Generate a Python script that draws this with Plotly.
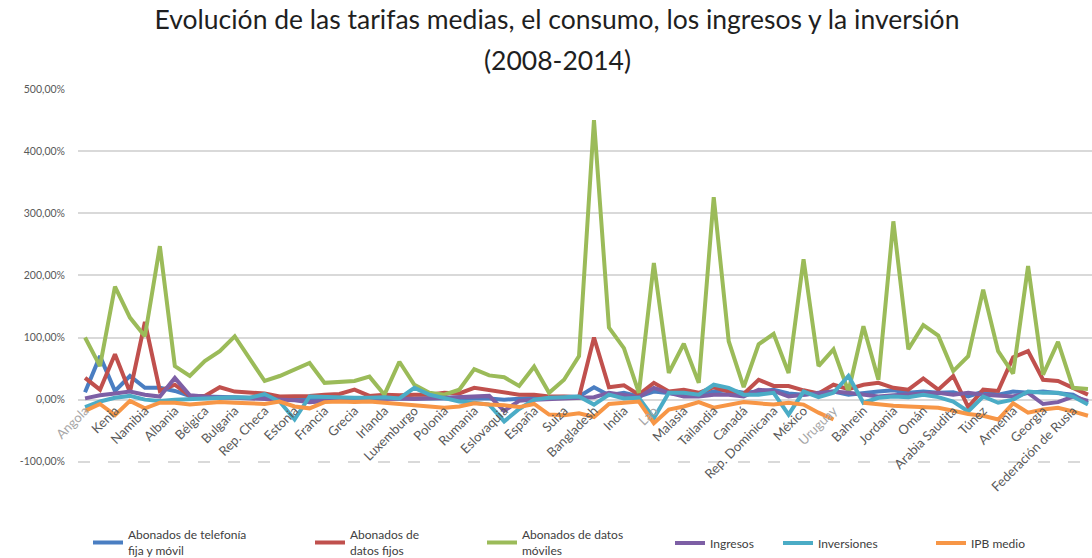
import plotly.graph_objects as go

# Categories (countries); only every other one is labelled on the axis
countries = [
    "Angola", "Ghana", "Kenia", "Mozambique", "Namibia", "Sudáfrica",
    "Albania", "Austria", "Bélgica", "Bosnia y Herzegovina", "Bulgaria", "Croacia",
    "Rep. Checa", "Dinamarca", "Estonia", "Finlandia", "Francia", "Alemania",
    "Grecia", "Hungría", "Irlanda", "Italia", "Luxemburgo", "Países Bajos",
    "Polonia", "Portugal", "Rumania", "Serbia", "Eslovaquia", "Eslovenia",
    "España", "Suecia", "Suiza", "Reino Unido", "Bangladesh", "China",
    "India", "Indonesia", "Lao", "Macao", "Malasia", "Singapur",
    "Tailandia", "Viet Nam", "Canadá", "Colombia", "Rep. Dominicana", "Guatemala",
    "México", "Perú", "Uruguay", "Venezuela", "Bahrein", "Egipto",
    "Jordania", "Kuwait", "Omán", "Qatar", "Arabia Saudita", "Siria",
    "Túnez", "Emiratos Árabes Unidos", "Armenia", "Azerbaiyán", "Georgia", "Kazajstán",
    "Federación de Rusia", "Ucrania",
]
labelled = countries[::2]
faint_labels = ["Angola", "Lao", "Uruguay"]

# Variation 2008-2014, in percent
abonados_telefonia = [
    12, 70, 14, 38, 19, 19, 14, 6, 5, 4, 4, 3, 3, 2, 2, 2, 2, 3, 3, 2,
    2, 2, 2, 2, 2, 2, 2, 2, 0, 2, 3, 4, 4, 5, 20, 7, 11, 5, 13, 11,
    8, 8, 13, 15, 11, 13, 16, 10, 8, 11, 13, 8, 11, 13, 15, 11, 13, 11, 12, 5,
    13, 8, 13, 11, 13, 11, 8, -5,
]
abonados_datos_fijos = [
    35, 16, 73, 12, 125, 14, 24, 6, 6, 20, 13, 12, 10, 5, 5, 6, 8, 9, 16, 6,
    8, 7, 8, 8, 11, 10, 19, 15, 12, 8, 8, 5, 5, 4, 100, 20, 23, 8, 27, 13,
    16, 11, 20, 13, 9, 32, 22, 22, 15, 10, 24, 17, 24, 27, 19, 16, 34, 16, 38, -12,
    16, 14, 68, 78, 32, 30, 19, 8,
]
abonados_datos_moviles = [
    100, 54, 182, 132, 102, 247, 54, 38, 62, 78, 102, 66, 30, 38, 48, 59, 27, 28, 30, 37,
    8, 61, 24, 11, 8, 16, 49, 39, 36, 22, 53, 11, 32, 70, 450, 116, 83, 11, 220, 43,
    90, 27, 326, 94, 20, 89, 106, 43, 226, 54, 81, 13, 118, 32, 287, 81, 120, 103, 46, 70,
    177, 78, 42, 215, 40, 93, 19, 17,
]
ingresos = [
    2, 7, 10, 13, 8, 5, 35, 7, 5, 3, 3, 2, 1, 0, -1, -4, -2, 0, 1, 1,
    2, 2, 1, 2, 2, 3, 4, 6, -18, -2, 0, 1, 2, 2, 4, 11, 8, 4, 19, 11,
    5, 5, 8, 8, 5, 16, 14, 5, 8, 11, 13, 11, 8, 5, 7, 8, 9, 11, 8, 11,
    8, 7, 5, 11, -7, -4, 5, -2,
]
inversiones = [
    -12, -3, 3, 6, 0, -2, 0, 1, 3, 4, 4, 3, 9, -3, -32, 5, 4, 3, 3, 3,
    4, 2, 19, 8, 2, -3, -5, -8, -35, -15, 0, 3, 4, 5, -8, 8, 2, 3, -30, 11,
    11, 8, 24, 19, 8, 8, 11, -24, 13, 4, 11, 38, -5, 3, 5, 4, 8, 4, -3, -19,
    5, -5, 0, 13, 11, 11, 5, -8,
]
ipb_medio = [
    -18, -7, -25, -2, -14, -5, -5, -8, -6, -4, -5, -6, -7, -3, -11, -14, -4, -3, -4, -3,
    -5, -8, -9, -12, -13, -11, -6, -8, -9, -12, -7, -24, -25, -22, -28, -7, -5, -3, -38, -16,
    -11, -4, -13, -8, -4, -6, -8, -5, -8, -21, -32, None, -5, -8, -10, -11, -12, -13, -18, -23,
    -26, -32, -6, -21, -16, -13, -19, -26,
]

y_ticks = [0, 100, 200, 300, 400, 500]
y_ticks_low = [-100]
Y_MIN, Y_MAX = -102, 500

series = [
    ("Abonados de telefonía<br>fija y móvil", abonados_telefonia, "#4a7ec2", "legend", "y"),
    ("Abonados de<br>datos fijos", abonados_datos_fijos, "#c0504d", "legend2", "y"),
    ("Abonados de datos<br>móviles", abonados_datos_moviles, "#9bbb59", "legend3", "y"),
    ("Ingresos", ingresos, "#7d5fa5", "legend4", "y"),
    ("Inversiones", inversiones, "#4bacc6", "legend5", "y"),
    ("IPB medio", ipb_medio, "#f79646", "legend6", "y2"),
]

W, H = 1092, 558
ML, MR, MT, MB = 78, 0, 89, 95
FONT = "Lato, Carlito, 'Open Sans', sans-serif"


def pct(v):
    return f"{v:.2f}%".replace(".", ",")


fig = go.Figure()
for name, vals, color, leg, yax in series:
    fig.add_trace(go.Scatter(
        x=countries, y=vals, name=name, mode="lines",
        line=dict(color=color, width=4),
        legend=leg, yaxis=yax, connectgaps=False, hoverinfo="x+y+name",
    ))

tick_text = [
    f"<span style='color:#a6a6a6'>{c}</span>" if c in faint_labels else c
    for c in labelled
]

# One legend per series, laid out along the bottom
legend_left = [88, 310, 482, 670, 778, 931]
legends = {}
for i, left in enumerate(legend_left):
    key = "legend" if i == 0 else f"legend{i + 1}"
    legends[key] = dict(
        x=left / W, y=1 - 543 / H, xref="container", yref="container",
        xanchor="left", yanchor="middle", orientation="h",
        bgcolor="rgba(0,0,0,0)", borderwidth=0,
        font=dict(family=FONT, size=12, color="#404040"),
        itemwidth=30, tracegroupgap=0,
    )

y_common = dict(
    range=[Y_MIN, Y_MAX], tickmode="array",
    showgrid=True, gridcolor="#d9d9d9", gridwidth=1.5,
    zeroline=False, showline=False, ticks="",
    tickfont=dict(family=FONT, size=10.5, color="#595959"),
    automargin=False, ticklabelstandoff=12,
)

fig.update_layout(
    width=W, height=H,
    margin=dict(l=ML, r=MR, t=MT, b=MB),
    paper_bgcolor="white", plot_bgcolor="white",
    showlegend=True,
    font=dict(family=FONT, color="#595959"),
    title=dict(
        text="Evolución de las tarifas medias, el consumo, los ingresos y la inversión",
        x=557 / W, xref="container", xanchor="center",
        y=1 - 10 / H, yref="container", yanchor="top",
        font=dict(family=FONT, size=26.5, color="#1f1f1f"),
    ),
    annotations=[dict(
        text="(2008-2014)", xref="paper", yref="paper",
        x=(557 - ML) / (W - ML - MR), y=(H - MB - 60) / (H - MT - MB),
        xanchor="center", yanchor="middle", showarrow=False,
        font=dict(family=FONT, size=26.5, color="#1f1f1f"),
    )],
    xaxis=dict(
        type="category", range=[-0.47, 67.27],
        anchor="free", position=(0 - Y_MIN) / (Y_MAX - Y_MIN),
        tickmode="array", tickvals=labelled, ticktext=tick_text,
        tickangle=-45, ticks="", showgrid=False, showline=False, zeroline=False,
        tickfont=dict(family=FONT, size=13, color="#595959"),
        automargin=False,
    ),
    yaxis=dict(tickvals=y_ticks, ticktext=[pct(v) for v in y_ticks], **y_common),
    yaxis2=dict(
        overlaying="y", side="left", anchor="x",
        tickvals=y_ticks_low, ticktext=[pct(v) for v in y_ticks_low],
        griddash="12px,18px", **y_common,
    ),
    **legends,
)

fig.write_html("out.html")
